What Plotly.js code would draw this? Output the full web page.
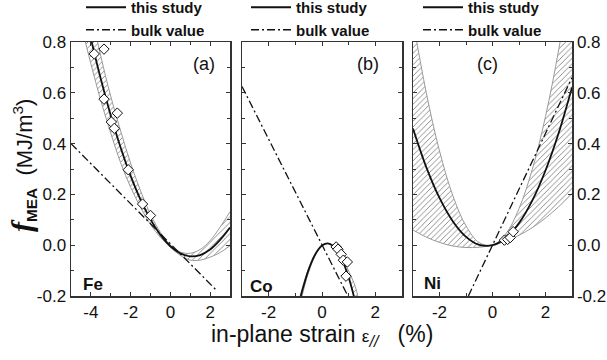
<!DOCTYPE html>
<html><head><meta charset="utf-8">
<script src="https://cdn.plot.ly/plotly-3.0.1.min.js"></script>
<style>html,body{margin:0;padding:0;background:#fff}#chart{width:607px;height:360px}</style>
</head><body><div id="chart"></div>
<script>
// ---------- Fe (panel a) ----------
const feX     = [-4.5, -4, -3.5, -3, -2.5, -2, -1.5, -1, -0.5, 0, 0.5, 1, 1.5, 2, 2.5, 3];
const feFit   = [0.991, 0.814, 0.654, 0.511, 0.384, 0.273, 0.179, 0.1015, 0.0405, -0.004, -0.032, -0.0437, -0.0387, -0.017, 0.021, 0.07];
const feUpper = [1.111, 0.924, 0.744, 0.586, 0.449, 0.323, 0.214, 0.1215, 0.0505, 0.0, -0.027, -0.0317, -0.0167, 0.018, 0.071, 0.132];
const feLower = [0.871, 0.714, 0.569, 0.441, 0.324, 0.228, 0.149, 0.0815, 0.0305, -0.008, -0.040, -0.0587, -0.0587, -0.047, -0.029, -0.002];
const feDataX = [-3.83, -3.34, -3.34, -2.67, -2.97, -2.82, -2.12, -1.40, -1.0];
const feDataY = [0.753, 0.772, 0.575, 0.52, 0.485, 0.46, 0.297, 0.162, 0.117];
const feBulkX = [-5, 2.35];
const feBulkY = [0.4, -0.18];

// ---------- Co (panel b) ----------
const coX     = [-0.9, -0.75, -0.5, -0.25, 0, 0.25, 0.5, 0.75, 1.0, 1.25, 1.5];
const coFit   = [-0.247, -0.1825, -0.096, -0.0355, -0.0014, 0.0065, -0.012, -0.0565, -0.127, -0.2245, -0.348];
const coUpper = [-0.235, -0.1735, -0.091, -0.0335, -0.001, 0.0066, -0.008, -0.044, -0.102, -0.163, -0.28];
const coLower = [-0.271, -0.2006, -0.1057, -0.0396, -0.0022, 0.0064, -0.012, -0.0565, -0.127, -0.2245, -0.35];
const coDataX = [0.53, 0.6, 0.72, 0.8, 0.95, 0.9];
const coDataY = [-0.007, -0.016, -0.036, -0.059, -0.066, -0.122];
const coBulkX = [-3, 0.97];
const coBulkY = [0.625, -0.2];

// ---------- Ni (panel c) ----------
const niX     = [-3, -2.5, -2, -1.5, -1, -0.5, 0, 0.5, 1, 1.5, 2, 2.5, 3];
const niFit   = [0.459, 0.3075, 0.186, 0.0945, 0.033, 0.0015, 0, 0.0285, 0.087, 0.1755, 0.294, 0.4425, 0.621];
const niUpper = [0.885, 0.601, 0.371, 0.196, 0.076, 0.010, 0, 0.044, 0.144, 0.298, 0.507, 0.771, 1.089];
const niLower = [0.060, 0.032, 0.011, -0.003, -0.009, -0.008, 0, 0.016, 0.039, 0.069, 0.107, 0.152, 0.204];
const niDataX = [0.45, 0.57, 0.67, 0.78];
const niDataY = [0.02, 0.023, 0.03, 0.053];
const niBulkX = [-0.91, 3];
const niBulkY = [-0.2, 0.66];

// ---------- ticks / labels ----------
const yTickVals = [-0.2, 0, 0.2, 0.4, 0.6, 0.8];
const yTickText = ['-0.2', '0.0', '0.2', '0.4', '0.6', '0.8'];
const feTickVals = [-4, -2, 0, 2];
const feTickText = ['-4', '-2', '0', '2'];
const cTickVals = [-2, 0, 2];
const cTickText = ['-2', '0', '2'];
const legendNames = ['this study', 'bulk value'];
const elementNames = ['Fe', 'Co', 'Ni'];
const panelNames = ['(a)', '(b)', '(c)'];

const FONT = 'Arial, "Liberation Sans", sans-serif';
const traces = [];

function panel(xs, fit, up, lo, dx, dy, bx, by, xa, ya, leg) {
  traces.push({x: xs, y: lo, xaxis: xa, yaxis: ya, mode: 'lines', showlegend: false, hoverinfo: 'skip',
    line: {color: '#9a9a9a', width: 1, shape: 'spline'}});
  traces.push({x: xs, y: up, xaxis: xa, yaxis: ya, mode: 'lines', showlegend: false, hoverinfo: 'skip',
    line: {color: '#9a9a9a', width: 1, shape: 'spline'}, fill: 'tonexty', fillcolor: 'rgba(255,255,255,0)',
    fillpattern: {shape: '/', fgcolor: '#808080', bgcolor: 'rgba(255,255,255,0)', size: 4, solidity: 0.22}});
  traces.push({x: xs, y: fit, xaxis: xa, yaxis: ya, mode: 'lines', name: legendNames[0], legend: leg,
    line: {color: '#111', width: 1.8, shape: 'spline'}});
  traces.push({x: bx, y: by, xaxis: xa, yaxis: ya, mode: 'lines', name: legendNames[1], legend: leg,
    line: {color: '#111', width: 1.3, dash: '8px,3px,2px,3px'}});
  traces.push({x: dx, y: dy, xaxis: xa, yaxis: ya, mode: 'markers', showlegend: false,
    marker: {symbol: 'diamond', size: 8, color: 'white', line: {color: '#111', width: 1}}});
}
panel(feX, feFit, feUpper, feLower, feDataX, feDataY, feBulkX, feBulkY, 'x', 'y', 'legend');
panel(coX, coFit, coUpper, coLower, coDataX, coDataY, coBulkX, coBulkY, 'x2', 'y2', 'legend2');
panel(niX, niFit, niUpper, niLower, niDataX, niDataY, niBulkX, niBulkY, 'x3', 'y3', 'legend3');

const L = 71, R = 572, T = 42, B = 296;
const px = v => (v - L) / (R - L);
const py = v => (B - v) / (B - T);

function axBase() {
  return {showline: true, linecolor: '#333', linewidth: 1.5, mirror: 'allticks', ticks: 'inside',
    ticklen: 4, tickwidth: 1, tickcolor: '#333', showgrid: false, zeroline: false,
    tickfont: {family: FONT, size: 17, color: '#111'}, tickmode: 'array'};
}
function xAx(domain, range, tv, tt, anchor) {
  return Object.assign(axBase(), {domain, range, anchor, tickvals: tv, ticktext: tt,
    minor: {tickmode: 'linear', tick0: 0, dtick: 1, ticks: 'inside', ticklen: 3, tickcolor: '#333'}});
}
function yAx(anchor, side, show) {
  return Object.assign(axBase(), {domain: [0, 1], range: [-0.2, 0.8], anchor, side, showticklabels: show,
    tickvals: yTickVals, ticktext: yTickText,
    minor: {tickmode: 'linear', tick0: 0, dtick: 0.1, ticks: 'inside', ticklen: 3, tickcolor: '#333'}});
}
function legendAt(xpx) {
  return {x: px(xpx), y: py(-9), xanchor: 'left', yanchor: 'top', xref: 'paper', yref: 'paper',
    bgcolor: 'rgba(0,0,0,0)', borderwidth: 0, itemwidth: 40, traceorder: 'normal',
    font: {family: FONT, size: 15, weight: 'bold', color: '#111'}};
}
function ann(text, xpx, ypx, size, extra) {
  return Object.assign({text, x: px(xpx), y: py(ypx), xref: 'paper', yref: 'paper', showarrow: false,
    xanchor: 'center', yanchor: 'middle', font: {family: FONT, size, color: '#111'}}, extra || {});
}

const layout = {
  width: 607, height: 360, margin: {l: L, r: 607 - R, t: T, b: 360 - B, autoexpand: false},
  paper_bgcolor: 'white', plot_bgcolor: 'white', showlegend: true,
  font: {family: FONT, color: '#111', size: 17},
  xaxis: xAx([0, px(230)], [-5, 3], feTickVals, feTickText, 'y'),
  xaxis2: xAx([px(242), px(402)], [-3, 3], cTickVals, cTickText, 'y2'),
  xaxis3: xAx([px(413), 1], [-3, 3], cTickVals, cTickText, 'y3'),
  yaxis: yAx('x', 'left', true),
  yaxis2: yAx('x2', 'left', false),
  yaxis3: yAx('x3', 'right', true),
  legend: legendAt(81), legend2: legendAt(246), legend3: legendAt(418),
  annotations: [
    ann(panelNames[0], 204, 64, 18), ann(panelNames[1], 368, 64, 18), ann(panelNames[2], 487, 64, 18),
    ann('<b>' + elementNames[0] + '</b>', 93, 284, 17),
    ann('<b>' + elementNames[1] + '</b>', 261, 286, 17),
    ann('<b>' + elementNames[2] + '</b>', 432, 283, 17),
    ann('in-plane strain <span style="font-size:17px">ε</span><sub><i>//</i></sub>\u00a0\u00a0\u00a0(%)', 322, 335, 23),
    ann('<span style="font-family:\'Liberation Serif\',\'Times New Roman\',serif;font-size:30px;font-style:italic;font-weight:bold">f</span><sub><b>MEA</b></sub>\u00a0\u00a0(MJ/m<sup>3</sup>)', 22, 166, 22, {textangle: -90})
  ]
};

Plotly.newPlot('chart', traces, layout, {staticPlot: true, displayModeBar: false});
</script>
</body></html>
